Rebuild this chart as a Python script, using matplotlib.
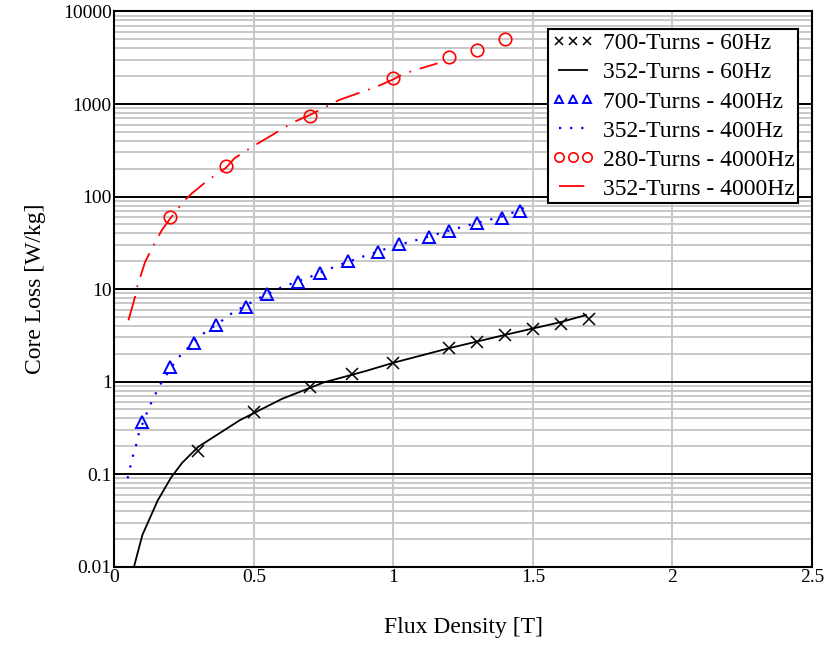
import matplotlib
matplotlib.use("Agg")
import matplotlib.pyplot as plt
from matplotlib.ticker import FixedLocator, LogLocator, NullFormatter

# measured points (markers)
b_60_700 = [0.3, 0.5, 0.7, 0.85, 1.0, 1.2, 1.3, 1.4, 1.5, 1.6, 1.7]
p_60_700 = [0.177, 0.465, 0.87, 1.2, 1.57, 2.29, 2.66, 3.2, 3.73, 4.19, 4.74]

b_400_700 = [0.1, 0.2, 0.286, 0.365, 0.47, 0.548, 0.658, 0.735, 0.837, 0.946,
             1.02, 1.126, 1.2, 1.3, 1.39, 1.455]
p_400_700 = [0.367, 1.43, 2.62, 4.09, 6.44, 8.83, 12.0, 15.0, 20.1, 25.3,
             30.6, 36.7, 42.7, 51.3, 59.0, 69.7]

b_4k_280 = [0.2, 0.4, 0.7, 1.0, 1.2, 1.3, 1.4]
p_4k_280 = [59.6, 215, 741, 1897, 3200, 3860, 5050]

# 352-turn curves
b_60_352 = [0.07, 0.10, 0.155, 0.203, 0.242, 0.30, 0.45, 0.6, 0.75, 0.9, 1.0,
            1.2, 1.4, 1.6, 1.69]
p_60_352 = [0.01, 0.022, 0.052, 0.092, 0.132, 0.197, 0.384, 0.65, 0.98, 1.3,
            1.6, 2.3, 3.2, 4.4, 5.24]

b_400_352 = [0.047, 0.062, 0.071, 0.081, 0.088, 0.126, 0.143, 0.157, 0.178,
             0.221, 0.251, 0.316, 0.38, 0.414, 0.447, 0.511, 0.6, 0.7, 0.8,
             0.9, 1.0, 1.1, 1.2, 1.3, 1.4, 1.485]
p_400_352 = [0.09, 0.142, 0.177, 0.223, 0.283, 0.547, 0.686, 0.865, 1.08,
             1.71, 2.14, 3.27, 4.43, 5.32, 6.08, 7.8, 10.5, 13.5, 18, 23, 29,
             35, 43, 52, 62, 79]

b_4k_352 = [0.05, 0.074, 0.083, 0.11, 0.131, 0.17, 0.2, 0.247, 0.277, 0.336,
            0.4, 0.43, 0.49, 0.565, 0.637, 0.7, 0.805, 0.906, 0.94, 1.0,
            1.035, 1.07, 1.158]
p_4k_352 = [4.6, 8.3, 11, 19.7, 26.4, 43.5, 58, 88, 108, 151, 205, 259, 340,
            462, 628, 760, 1105, 1417, 1540, 1850, 2110, 2290, 2754]

x_ticks = [0, 0.5, 1, 1.5, 2, 2.5]
x_ticklabels = ["0", "0.5", "1", "1.5", "2", "2.5"]
y_ticks = [0.01, 0.1, 1, 10, 100, 1000, 10000]
y_ticklabels = ["0.01", "0.1", "1", "10", "100", "1000", "10000"]

plt.rcParams["font.family"] = ["Liberation Serif", "DejaVu Serif"]

fig = plt.figure(figsize=(8.26, 6.46), dpi=100)
ax = fig.add_axes([0.1386, 0.1228, 0.8444, 0.8594])

ax.plot(b_60_700, p_60_700, linestyle="none", marker="x", color="black",
        markersize=8, markeredgewidth=1.1, label="700-Turns - 60Hz")
ax.plot(b_60_352, p_60_352, color="black", linewidth=1.3,
        label="352-Turns - 60Hz")
ax.plot(b_400_700, p_400_700, linestyle="none", marker="^", color="#0000ff",
        markerfacecolor="none", markersize=8, markeredgewidth=1.4,
        label="700-Turns - 400Hz")
ax.plot(b_400_352, p_400_352, color="#0000ff", linewidth=1.6,
        linestyle=(0, (1, 4)), label="352-Turns - 400Hz")
ax.plot(b_4k_280, p_4k_280, linestyle="none", marker="o", color="#ff0000",
        markerfacecolor="none", markersize=9, markeredgewidth=1.2,
        label="280-Turns - 4000Hz")
ax.plot(b_4k_352, p_4k_352, color="#ff0000", linewidth=1.3,
        dashes=[14, 5, 1, 5], label="352-Turns - 4000Hz")

ax.set_yscale("log")
ax.set_xlim(0, 2.5)
ax.set_ylim(0.01, 10000)

ax.xaxis.set_major_locator(FixedLocator(x_ticks))
ax.set_xticklabels(x_ticklabels)
ax.yaxis.set_major_locator(FixedLocator(y_ticks))
ax.set_yticklabels(y_ticklabels)
ax.yaxis.set_minor_locator(LogLocator(base=10, subs=range(2, 10)))
ax.yaxis.set_minor_formatter(NullFormatter())
ax.tick_params(which="both", length=0, labelsize=14, pad=2)

ax.grid(axis="x", which="major", color="#c8c8c8", linewidth=1.4)
ax.grid(axis="y", which="minor", color="#c8c8c8", linewidth=1.4)
ax.grid(axis="y", which="major", color="black", linewidth=1.4)
ax.set_axisbelow(True)
for s in ax.spines.values():
    s.set_linewidth(1.5)

ax.set_xlabel("Flux Density [T]", fontsize=17, labelpad=22)
ax.set_ylabel("Core Loss [W/kg]", fontsize=17, labelpad=12)

leg = ax.legend(loc="upper right", bbox_to_anchor=(0.98, 0.968),
                borderaxespad=0, fontsize=17, numpoints=3, markerscale=0.75,
                handlelength=1.8, handletextpad=0.35, labelspacing=0.32,
                borderpad=0.15, fancybox=False, framealpha=1,
                edgecolor="black")
leg.get_frame().set_linewidth(1.5)

fig.savefig("out.png", dpi=100)
